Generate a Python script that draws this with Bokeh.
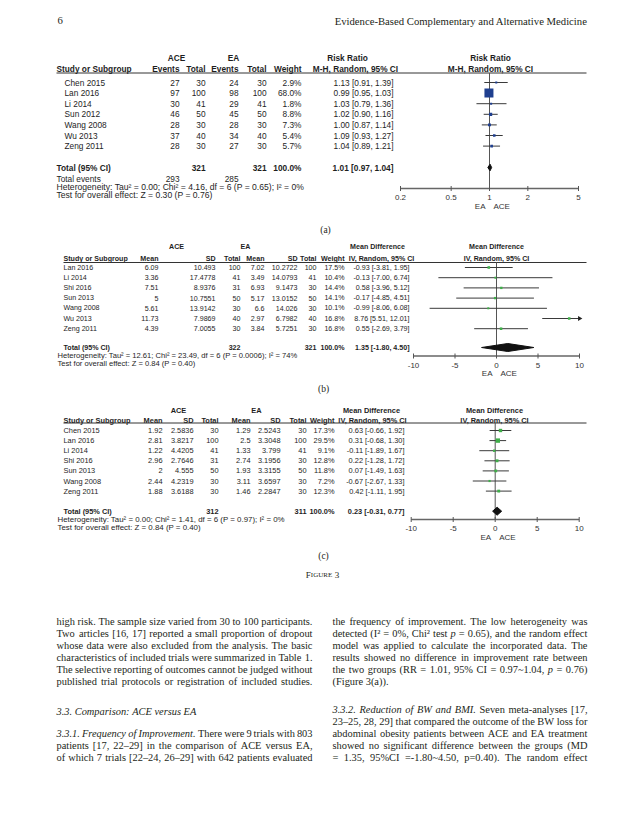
import numpy as np
from bokeh.plotting import figure
from bokeh.models import Range1d, LogScale
from bokeh.core.properties import value
from bokeh.embed import file_html
from bokeh.resources import INLINE

# ---------------- data: panel (a) frequency of improvement ----------------
a_studies = ["Chen 2015", "Lan 2016", "Li 2014", "Sun 2012", "Wang 2008", "Wu 2013", "Zeng 2011"]
a_ace_events = [27, 97, 30, 46, 28, 37, 28]
a_ace_total = [30, 100, 41, 50, 30, 40, 30]
a_ea_events = [24, 98, 29, 45, 28, 34, 27]
a_ea_total = [30, 100, 41, 50, 30, 40, 30]
a_weight = [2.9, 68.0, 1.8, 8.8, 7.3, 5.4, 5.7]
a_rr = [1.13, 0.99, 1.03, 1.02, 1.00, 1.09, 1.04]
a_lo = [0.91, 0.95, 0.79, 0.90, 0.87, 0.93, 0.89]
a_hi = [1.39, 1.03, 1.36, 1.16, 1.14, 1.27, 1.21]
a_pooled = [1.01, 0.97, 1.04]
a_sum_total = [321, 321]
a_sum_events = [293, 285]
a_het = "Heterogeneity: Tau\u00b2 = 0.00; Chi\u00b2 = 4.16, df = 6 (P = 0.65); I\u00b2 = 0%"
a_test = "Test for overall effect: Z = 0.30 (P = 0.76)"
a_ticks = [0.2, 0.5, 1, 2, 5]
a_tick_labels = ["0.2", "0.5", "1", "2", "5"]

# ---------------- data: panel (b) body weight ----------------
b_studies = ["Lan 2016", "Li 2014", "Shi 2016", "Sun 2013", "Wang 2008", "Wu 2013", "Zeng 2011"]
b_ace_mean = [6.09, 3.36, 7.51, 5, 5.61, 11.73, 4.39]
b_ace_sd = [10.493, 17.4778, 8.9376, 10.7551, 13.9142, 7.9869, 7.0055]
b_ace_n = [100, 41, 31, 50, 30, 40, 30]
b_ea_mean = [7.02, 3.49, 6.93, 5.17, 6.6, 2.97, 3.84]
b_ea_sd = [10.2722, 14.0793, 9.1473, 13.0152, 14.026, 6.7982, 5.7251]
b_ea_n = [100, 41, 30, 50, 30, 40, 30]
b_weight = [17.5, 10.4, 14.4, 14.1, 10.1, 16.8, 16.8]
b_md = [-0.93, -0.13, 0.58, -0.17, -0.99, 8.76, 0.55]
b_lo = [-3.81, -7.00, -3.96, -4.85, -8.06, 5.51, -2.69]
b_hi = [1.95, 6.74, 5.12, 4.51, 6.08, 12.01, 3.79]
b_pooled = [1.35, -1.80, 4.50]
b_sum_total = [322, 321]
b_het = "Heterogeneity: Tau\u00b2 = 12.61; Chi\u00b2 = 23.49, df = 6 (P = 0.0006); I\u00b2 = 74%"
b_test = "Test for overall effect: Z = 0.84 (P = 0.40)"
md_ticks = [-10, -5, 0, 5, 10]
md_tick_labels = ["-10", "-5", "0", "5", "10"]

# ---------------- data: panel (c) BMI ----------------
c_studies = ["Chen 2015", "Lan 2016", "Li 2014", "Shi 2016", "Sun 2013", "Wang 2008", "Zeng 2011"]
c_ace_mean = [1.92, 2.81, 1.22, 2.96, 2, 2.44, 1.88]
c_ace_sd = [2.5836, 3.8217, 4.4205, 2.7646, 4.555, 4.2319, 3.6188]
c_ace_n = [30, 100, 41, 31, 50, 30, 30]
c_ea_mean = [1.29, 2.5, 1.33, 2.74, 1.93, 3.11, 1.46]
c_ea_sd = [2.5243, 3.3048, 3.799, 3.1956, 3.3155, 3.6597, 2.2847]
c_ea_n = [30, 100, 41, 30, 50, 30, 30]
c_weight = [17.3, 29.5, 9.1, 12.8, 11.8, 7.2, 12.3]
c_md = [0.63, 0.31, -0.11, 0.22, 0.07, -0.67, 0.42]
c_lo = [-0.66, -0.68, -1.89, -1.28, -1.49, -2.67, -1.11]
c_hi = [1.92, 1.30, 1.67, 1.72, 1.63, 1.33, 1.95]
c_pooled = [0.23, -0.31, 0.77]
c_sum_total = [312, 311]
c_het = "Heterogeneity: Tau\u00b2 = 0.00; Chi\u00b2 = 1.41, df = 6 (P = 0.97); I\u00b2 = 0%"
c_test = "Test for overall effect: Z = 0.84 (P = 0.40)"

# ---------------- page text ----------------
page_number = "6"
journal = "Evidence-Based Complementary and Alternative Medicine"
left_lines = [
    ("high risk. The sample size varied from 30 to 100 participants.", True, 0),
    ("Two articles [16, 17] reported a small proportion of dropout", True, 0),
    ("whose data were also excluded from the analysis. The basic", True, 0),
    ("characteristics of included trials were summarized in Table 1.", True, 0),
    ("The selective reporting of outcomes cannot be judged without", True, 0),
    ("published trial protocols or registration of included studies.", True, 0),
    ("3.3. Comparison: ACE versus EA", False, 5),
    ("3.3.1. Frequency of Improvement.  There were 9 trials with 803", True, 4),
    ("patients [17, 22\u201329] in the comparison of ACE versus EA,", True, 0),
    ("of which 7 trials [22\u201324, 26\u201329] with 642 patients evaluated", True, 0),
]
right_lines = [
    ("the frequency of improvement. The low heterogeneity was", True, 0),
    ("detected (I\u00b2 = 0%, Chi\u00b2 test p = 0.65), and the random effect", True, 0),
    ("model was applied to calculate the incorporated data. The", True, 0),
    ("results showed no difference in improvement rate between", True, 0),
    ("the two groups (RR = 1.01, 95% CI = 0.97~1.04, p = 0.76)", True, 0),
    ("(Figure 3(a)).", False, 0),
    ("3.3.2. Reduction of BW and BMI.  Seven meta-analyses [17,", True, 6),
    ("23\u201325, 28, 29] that compared the outcome of the BW loss for", True, 0),
    ("abdominal obesity patients between ACE and EA treatment", True, 0),
    ("showed no significant difference between the groups (MD", True, 0),
    ("= 1.35, 95%CI =-1.80~4.50, p=0.40). The random effect", True, 0),
]
left_y = [620.7, 633, 645, 657, 669, 681, 710.7, 732.7, 745, 757.3]
right_y = [620.7, 633, 645, 657, 669, 681, 709, 721, 732.7, 745, 757.3]

# ---------------- figure (page coordinates) ----------------
FL, FR = 0, 627
p = figure(width=627, height=808, x_range=Range1d(FL, FR), y_range=Range1d(808, 0),
           output_backend="svg", toolbar_location=None, min_border=0,
           x_axis_location=None, y_axis_location=None)
p.grid.visible = False
p.outline_line_color = None
p.background_fill_color = "white"
p.border_fill_color = "white"


def lin_range(v0, px0, v1, px1):
    k = (px1 - px0) / (v1 - v0)
    return Range1d(v0 - (px0 - FL) / k, v0 + (FR - px0) / k)


ra = lin_range(np.log10(a_ticks[0]), 400, np.log10(a_ticks[-1]), 578)
p.extra_x_ranges = {
    "a": Range1d(10 ** ra.start, 10 ** ra.end),
    "b": lin_range(md_ticks[0], 413, md_ticks[-1], 579),
    "c": lin_range(md_ticks[0], 410.7, md_ticks[-1], 578.7),
}
p.extra_x_scales = {"a": LogScale()}

TXT = "#1e1e1e"
SANS = "Liberation Sans"
SERIF = "Liberation Serif"


def T(xs, ys, texts, size=8.2, align="left", style="normal", color=TXT, font=SANS, rn=None, xoff=0):
    texts = list(texts)
    n = len(texts)
    xs = list(xs) if isinstance(xs, (list, tuple)) else [xs] * n
    ys = list(ys) if isinstance(ys, (list, tuple)) else [ys] * n
    kw = dict(x=xs, y=ys, text=texts, text_font=value(font), text_font_size=f"{size}px",
              text_align=align, text_baseline="middle", text_font_style=style, text_color=color)
    if rn:
        kw["x_range_name"] = rn
    if xoff:
        kw["x_offset"] = xoff
    p.text(**kw)


def fmt_ci(e, l, h):
    return f"{e:.2f} [{l:.2f}, {h:.2f}]"


def forest(rn, rows_y, est, lo, hi, weight, wmax, smax, color, ticks, labels, ref,
           top, axis_y, pooled, pooled_y, dh):
    tmin, tmax = ticks[0], ticks[-1]
    p.segment(x0=[ref], x1=[ref], y0=[top], y1=[axis_y], x_range_name=rn,
              line_color="#555555", line_width=1)
    hi_c = [min(h, tmax) for h in hi]
    lo_c = [max(l, tmin) for l in lo]
    p.segment(x0=lo_c, x1=hi_c, y0=rows_y, y1=rows_y, x_range_name=rn,
              line_color="#3a3a3a", line_width=1)
    sizes = [max(2.0, smax * np.sqrt(w / wmax)) for w in weight]
    p.scatter(x=est, y=rows_y, size=sizes, marker="square", x_range_name=rn,
              fill_color=color, line_color=None)
    arr_y = [y for y, h in zip(rows_y, hi) if h > tmax]
    if arr_y:
        p.scatter(x=[tmax] * len(arr_y), y=arr_y, marker="triangle", angle=-np.pi / 2,
                  size=5, x_range_name=rn, fill_color="#222222", line_color=None)
    e, l, h = pooled
    p.patch(x=[l, e, h, e], y=[pooled_y, pooled_y - dh, pooled_y, pooled_y + dh],
            x_range_name=rn, fill_color="#111111", line_color="#111111")
    p.segment(x0=[tmin], x1=[tmax], y0=[axis_y], y1=[axis_y], x_range_name=rn,
              line_color="#666666", line_width=1.3)
    p.segment(x0=ticks, x1=ticks, y0=[axis_y - 2.5] * len(ticks), y1=[axis_y + 2.5] * len(ticks),
              x_range_name=rn, line_color="#555555", line_width=1)
    T(ticks, axis_y + 9, labels, size=8, align="center", color="#333333", rn=rn)
    T([ref], axis_y + 17.5, ["EA"], size=8, align="right", color="#333333", rn=rn, xoff=-4)
    T([ref], axis_y + 17.5, ["ACE"], size=8, align="left", color="#333333", rn=rn, xoff=4)


# ================= panel (a) =================
SA = 8.3
ya = [82 + 10.6 * i for i in range(len(a_studies))]
T([176, 233, 347, 490], 57, ["ACE", "EA", "Risk Ratio", "Risk Ratio"], size=SA, align="center", style="bold")
T(56, 68.5, ["Study or Subgroup"], size=SA, style="bold")
T([179, 205, 238, 266, 301], 68.5, ["Events", "Total", "Events", "Total", "Weight"], size=SA,
  align="right", style="bold")
T([355, 490], 68.5, ["M-H, Random, 95% CI", "M-H, Random, 95% CI"], size=SA, align="center", style="bold")
p.segment(x0=[56], x1=[586], y0=[72.5], y1=[72.5], line_color="#333333", line_width=1)
T(64, ya, a_studies, size=SA)
T(179, ya, [str(v) for v in a_ace_events], size=SA, align="right")
T(205, ya, [str(v) for v in a_ace_total], size=SA, align="right")
T(238, ya, [str(v) for v in a_ea_events], size=SA, align="right")
T(266, ya, [str(v) for v in a_ea_total], size=SA, align="right")
T(301, ya, [f"{w:.1f}%" for w in a_weight], size=SA, align="right")
T(393, ya, [fmt_ci(e, l, h) for e, l, h in zip(a_rr, a_lo, a_hi)], size=SA, align="right")
T(56, 167, ["Total (95% CI)"], size=SA, style="bold")
T([205, 266, 301, 393], 167, [str(a_sum_total[0]), str(a_sum_total[1]), "100.0%", fmt_ci(*a_pooled)],
  size=SA, align="right", style="bold")
T(56, 178, ["Total events"], size=SA)
T([179, 238], 178, [str(a_sum_events[0]), str(a_sum_events[1])], align="right", size=SA)
T(56, 186.2, [a_het], size=8.6)
T(56, 194, [a_test], size=8.6)
forest("a", ya, a_rr, a_lo, a_hi, a_weight, 68.0, 9.0, "#1f3f8f", a_ticks, a_tick_labels, 1,
       72.5, 188, a_pooled, 167, 3.3)
T(325, 229, ["(a)"], size=9.5, align="center", font=SERIF, color="#231f20")

# ================= panel (b) =================
SB = 7.1
yb = [267 + 10.2 * i for i in range(len(b_studies))]
T([176, 245, 377, 496], 246, ["ACE", "EA", "Mean Difference", "Mean Difference"], size=SB,
  align="center", style="bold")
T(63, 258.5, ["Study or Subgroup"], size=SB, style="bold")
bx = [158, 215, 240, 264, 297, 316, 344]
T(bx, 258.5, ["Mean", "SD", "Total", "Mean", "SD", "Total", "Weight"],
  size=SB, align="right", style="bold")
T([381, 496], 258.5, ["IV, Random, 95% CI", "IV, Random, 95% CI"], size=SB, align="center", style="bold")
p.segment(x0=[63], x1=[586], y0=[262], y1=[262], line_color="#333333", line_width=1)
T(63, yb, b_studies, size=SB)
T(bx[0], yb, [f"{v:g}" for v in b_ace_mean], size=SB, align="right")
T(bx[1], yb, [f"{v:g}" for v in b_ace_sd], size=SB, align="right")
T(bx[2], yb, [str(v) for v in b_ace_n], size=SB, align="right")
T(bx[3], yb, [f"{v:g}" for v in b_ea_mean], size=SB, align="right")
T(bx[4], yb, [f"{v:g}" for v in b_ea_sd], size=SB, align="right")
T(bx[5], yb, [str(v) for v in b_ea_n], size=SB, align="right")
T(bx[6], yb, [f"{w:.1f}%" for w in b_weight], size=SB, align="right")
T(409, yb, [fmt_ci(e, l, h) for e, l, h in zip(b_md, b_lo, b_hi)], size=SB, align="right")
T(63, 347, ["Total (95% CI)"], size=SB, style="bold")
T([bx[2], bx[5], bx[6], 409], 347, [str(b_sum_total[0]), str(b_sum_total[1]), "100.0%", fmt_ci(*b_pooled)],
  size=SB, align="right", style="bold")
T(57, 355, [b_het], size=7.6)
T(57, 363, [b_test], size=7.6)
forest("b", yb, b_md, b_lo, b_hi, b_weight, 17.5, 2.6, "#3fae49", md_ticks, md_tick_labels, 0,
       262, 355.5, b_pooled, 347, 4.0)
T(323, 388, ["(b)"], size=9.5, align="center", font=SERIF, color="#231f20")

# ================= panel (c) =================
SC = 7.4
yc = [430 + 10.1 * i for i in range(len(c_studies))]
T([178, 256, 371, 494], 409.5, ["ACE", "EA", "Mean Difference", "Mean Difference"], size=SC,
  align="center", style="bold")
T(63, 419.5, ["Study or Subgroup"], size=SC, style="bold")
cx = [162, 193, 218, 250, 280, 306, 334]
T(cx, 419.5, ["Mean", "SD", "Total", "Mean", "SD", "Total", "Weight"],
  size=SC, align="right", style="bold")
T([372, 494], 419.5, ["IV, Random, 95% CI", "IV, Random, 95% CI"], size=SC, align="center", style="bold")
p.segment(x0=[63], x1=[586], y0=[422.5], y1=[422.5], line_color="#333333", line_width=1)
T(63, yc, c_studies, size=SC)
T(cx[0], yc, [f"{v:g}" for v in c_ace_mean], size=SC, align="right")
T(cx[1], yc, [f"{v:g}" for v in c_ace_sd], size=SC, align="right")
T(cx[2], yc, [str(v) for v in c_ace_n], size=SC, align="right")
T(cx[3], yc, [f"{v:g}" for v in c_ea_mean], size=SC, align="right")
T(cx[4], yc, [f"{v:g}" for v in c_ea_sd], size=SC, align="right")
T(cx[5], yc, [str(v) for v in c_ea_n], size=SC, align="right")
T(cx[6], yc, [f"{w:.1f}%" for w in c_weight], size=SC, align="right")
T(404, yc, [fmt_ci(e, l, h) for e, l, h in zip(c_md, c_lo, c_hi)], size=SC, align="right")
T(63, 510.7, ["Total (95% CI)"], size=SC, style="bold")
T([cx[2], cx[5], cx[6], 404], 510.7, [str(c_sum_total[0]), str(c_sum_total[1]), "100.0%", fmt_ci(*c_pooled)],
  size=SC, align="right", style="bold")
T(57, 519.3, [c_het], size=7.9)
T(57, 527.3, [c_test], size=7.9)
forest("c", yc, c_md, c_lo, c_hi, c_weight, 29.5, 4.4, "#3fae49", md_ticks, md_tick_labels, 0,
       422.5, 519, c_pooled, 510.7, 4.0)
T(323, 555, ["(c)"], size=9.5, align="center", font=SERIF, color="#231f20")

# ================= body text (justified via Times metrics) =================
TR = {' ': 250, '!': 333, '"': 408, '#': 500, '$': 500, '%': 833, '&': 778, "'": 333, '(': 333,
      ')': 333, '*': 500, '+': 564, ',': 250, '-': 333, '.': 250, '/': 278, ':': 278, ';': 278,
      '<': 564, '=': 564, '>': 564, '?': 444, '@': 921, '[': 333, ']': 333, '~': 541,
      '\u2013': 500, '\u00b2': 300,
      'A': 722, 'B': 667, 'C': 667, 'D': 722, 'E': 611, 'F': 556, 'G': 722, 'H': 722, 'I': 333,
      'J': 389, 'K': 722, 'L': 611, 'M': 889, 'N': 722, 'O': 722, 'P': 556, 'Q': 722, 'R': 667,
      'S': 556, 'T': 611, 'U': 722, 'V': 722, 'W': 944, 'X': 722, 'Y': 722, 'Z': 611,
      'a': 444, 'b': 500, 'c': 444, 'd': 500, 'e': 444, 'f': 333, 'g': 500, 'h': 500, 'i': 278,
      'j': 278, 'k': 500, 'l': 278, 'm': 778, 'n': 500, 'o': 500, 'p': 500, 'q': 500, 'r': 333,
      's': 389, 't': 278, 'u': 500, 'v': 500, 'w': 722, 'x': 500, 'y': 500, 'z': 444}
TI = dict(TR)
TI.update({'A': 611, 'B': 611, 'C': 667, 'E': 611, 'F': 611, 'I': 333, 'M': 833, 'R': 611, 'S': 500,
           'W': 833, 'V': 611, 'a': 500, 'f': 278, 'k': 444, 'm': 722, 'r': 389, 'v': 444, 'w': 667,
           'y': 444, 'z': 389, ':': 333})


def wid(s, italic, size):
    tb = TI if italic else TR
    return sum(tb.get(ch, 500) for ch in s) * size / 1000.0


BODY = 10.4
BODY_C = "#231f20"


def body(lines, ys, x0, x1):
    px, py, pt, ix, iy, it = [], [], [], [], [], []
    for (line, justify, n_it), y in zip(lines, ys):
        words = line.split()
        flags = [(i < n_it) or (w == "p") for i, w in enumerate(words)]
        ws = [wid(w, f, BODY) for w, f in zip(words, flags)]
        if justify and len(words) > 1:
            gap = (x1 - x0 - sum(ws)) / (len(words) - 1)
        else:
            gap = 0.25 * BODY
        x = x0
        for w, f, ww in zip(words, flags, ws):
            if f:
                ix.append(x); iy.append(y); it.append(w)
            else:
                px.append(x); py.append(y); pt.append(w)
            x += ww + gap
    T(px, py, pt, size=BODY, font=SERIF, color=BODY_C)
    if it:
        T(ix, iy, it, size=BODY, font=SERIF, color=BODY_C, style="italic")


body(left_lines, left_y, 56, 312)
body(right_lines, right_y, 332, 587)

# header and caption
T(57, 20, [page_number], size=10.7, font=SERIF, color=BODY_C)
T(587, 20, [journal], size=10.7, font=SERIF, color=BODY_C, align="right")
f_big, f_small = 9.0, 7.0
w_f = wid("F", False, f_big)
w_i = wid("IGURE", False, f_small)
w_3 = wid("3", False, f_big)
gap3 = 2.5
cx0 = 322 - (w_f + w_i + gap3 + w_3) / 2
T(cx0, 574, ["F"], size=f_big, font=SERIF, color=BODY_C)
T(cx0 + w_f, 574.6, ["IGURE"], size=f_small, font=SERIF, color=BODY_C)
T(cx0 + w_f + w_i + gap3, 574, ["3"], size=f_big, font=SERIF, color=BODY_C)

open("out.html", "w").write(file_html(p, INLINE))
